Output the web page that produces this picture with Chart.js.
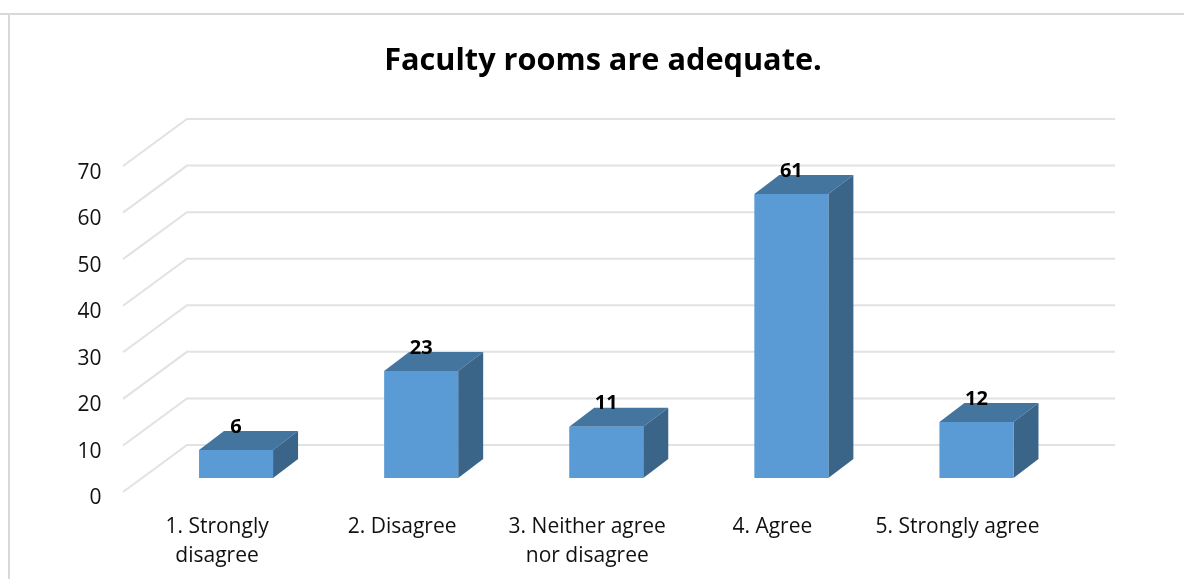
<!DOCTYPE html>
<html>
<head>
<meta charset="utf-8">
<style>
html,body{margin:0;padding:0;background:#fff;overflow:hidden}
canvas{display:block;filter:blur(0.5px)}
</style>
<script src="https://cdn.jsdelivr.net/npm/chart.js@4"></script>
</head>
<body>
<canvas id="c" width="1184" height="579"></canvas>
<script>
const categories = [["1. Strongly","disagree"],"2. Disagree",["3. Neither agree","nor disagree"],"4. Agree","5. Strongly agree"];
const values = [6,23,11,61,12];
const titleText = "Faculty rooms are adequate.";
const FONT = "'Open Sans'";

const DEPTH_X = 25, DEPTH_Y = 19, BASE_LIFT = 14;
const WALL_X = 123, WALL_BACK_X = 187, WALL_RIGHT = 1115, WALL_DY = 47;

const threeD = {
  id: 'threeD',
  beforeDraw(chart){
    const c = chart.ctx;
    c.save();
    c.fillStyle = '#ffffff';
    c.fillRect(0,0,chart.width,chart.height);
    c.fillStyle = '#d9d9d9';
    c.fillRect(0,13,chart.width,2);
    c.fillRect(8,13,2,chart.height-13);
    c.restore();
  },
  beforeDatasetsDraw(chart){
    const c = chart.ctx, y = chart.scales.y;
    c.save();
    c.strokeStyle = '#e2e2e2';
    c.lineWidth = 2;
    c.lineJoin = 'miter';
    y.ticks.forEach(t => {
      const py = y.getPixelForValue(t.value);
      c.beginPath();
      c.moveTo(WALL_X, py);
      c.lineTo(WALL_BACK_X, py - WALL_DY);
      c.lineTo(WALL_RIGHT, py - WALL_DY);
      c.stroke();
    });
    c.restore();
    c.save();
    c.translate(0, -BASE_LIFT);
    chart.getDatasetMeta(0).data.forEach(b => {
      const l = b.x - b.width/2, r = b.x + b.width/2, t = b.y, bt = b.base;
      c.fillStyle = '#44759f';
      c.beginPath();
      c.moveTo(l,t); c.lineTo(l+DEPTH_X,t-DEPTH_Y); c.lineTo(r+DEPTH_X,t-DEPTH_Y); c.lineTo(r,t);
      c.closePath(); c.fill();
      c.fillStyle = '#3a6589';
      c.beginPath();
      c.moveTo(r,t); c.lineTo(r+DEPTH_X,t-DEPTH_Y); c.lineTo(r+DEPTH_X,bt-DEPTH_Y); c.lineTo(r,bt);
      c.closePath(); c.fill();
    });
  },
  afterDatasetsDraw(chart){
    const c = chart.ctx;
    c.restore();
    c.save();
    c.fillStyle = '#000';
    c.font = "bold 20px " + FONT;
    c.textAlign = 'center';
    c.textBaseline = 'middle';
    chart.getDatasetMeta(0).data.forEach((b,i) => {
      c.fillText(String(values[i]), b.x, b.y - BASE_LIFT - 23);
    });
    c.restore();
  }
};

new Chart(document.getElementById('c'), {
  type: 'bar',
  data: {
    labels: categories,
    datasets: [{
      data: values,
      backgroundColor: '#5b9bd5',
      borderWidth: 0,
      barPercentage: 0.4,
      categoryPercentage: 1,
      clip: false
    }]
  },
  options: {
    responsive: false,
    animation: false,
    layout: { padding: { left: 22, right: 0, top: 0, bottom: 0 } },
    plugins: {
      legend: { display: false },
      tooltip: { enabled: false },
      title: {
        display: true,
        text: titleText,
        color: '#000',
        font: { family: FONT, size: 30.7, weight: 'bold', lineHeight: 1.2 },
        padding: { top: 43, bottom: 86.2 }
      }
    },
    scales: {
      x: {
        offset: true,
        grid: { display: false, drawTicks: false },
        border: { display: false },
        afterFit(s){ s.height = 87; },
        ticks: {
          color: '#111',
          font: { family: FONT, size: 21, lineHeight: 1.38 },
          padding: 21,
          labelOffset: -19,
          maxRotation: 0,
          autoSkip: false
        }
      },
      y: {
        min: 0, max: 70,
        afterFit(s){ s.width = 121.5; },
        grid: { display: false, drawTicks: false },
        border: { display: false },
        ticks: {
          stepSize: 10,
          color: '#111',
          font: { family: FONT, size: 21 },
          padding: 42,
          labelOffset: 6.5
        }
      },
      rightGutter: {
        position: 'right',
        afterFit(s){ s.width = 115; },
        grid: { display: false, drawTicks: false },
        border: { display: false },
        ticks: { display: false }
      }
    }
  },
  plugins: [threeD]
});
</script>
</body>
</html>
